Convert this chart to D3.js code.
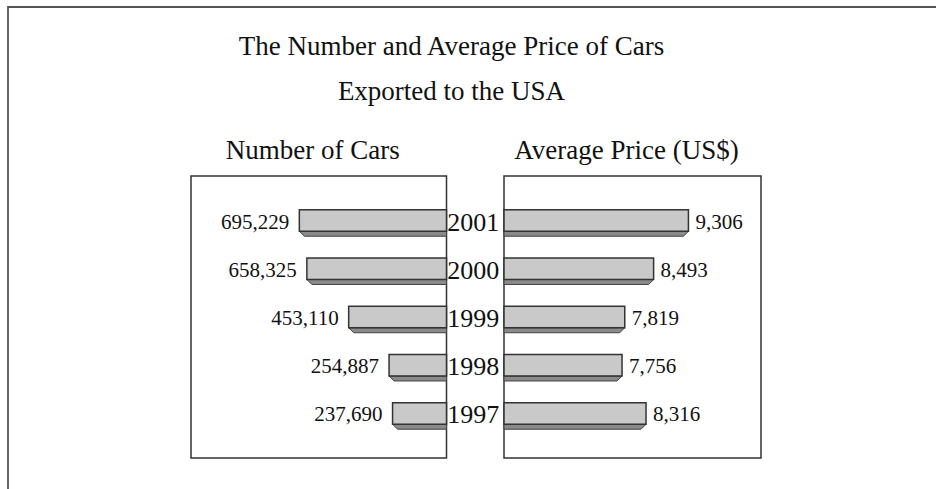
<!DOCTYPE html>
<html><head><meta charset="utf-8">
<script src="https://cdn.jsdelivr.net/npm/d3@7"></script>
<style>body{margin:0;background:#fff}svg{display:block}</style>
</head><body>
<svg id="c" width="936" height="489"></svg>
<script>
const years = ["2001","2000","1999","1998","1997"];
const numberOfCars = [695229, 658325, 453110, 254887, 237690];
const averagePrice = [9306, 8493, 7819, 7756, 8316];
const titleLines = ["The Number and Average Price of Cars", "Exported to the USA"];
const panelTitles = ["Number of Cars", "Average Price (US$)"];

(function(){
const svg = d3.select("#c");
const font = "'Liberation Serif','Times New Roman',serif";
const fmt = d3.format(",");

// outer frame (left and top edges)
svg.append("path").attr("d","M8,489 V7 H936").attr("fill","none").attr("stroke","#555").attr("stroke-width",1.8);

// titles
svg.selectAll("text.title").data(titleLines).enter().append("text")
  .attr("x",451.5).attr("y",(d,i)=>55+i*44.5).attr("text-anchor","middle")
  .attr("font-family",font).attr("font-size",27).attr("fill","#111").text(d=>d);

const pTop = 176, pBottom = 458;
const L = {x0:191, x1:446.5}, R = {x0:504, x1:761};

const y = d3.scaleBand().domain(years).range([pTop,pBottom]).paddingInner(0.555).paddingOuter(0.7);
const xL = d3.scaleLinear().domain([-27000, 1227000]).range([0, L.x1-L.x0]);
const xR = d3.scaleLinear().domain([5000, 11000]).range([0, R.x1-R.x0]);

svg.append("text").attr("x",312.7).attr("y",158.5).attr("text-anchor","middle")
  .attr("font-family",font).attr("font-size",27).attr("fill","#111").text(panelTitles[0]);
svg.append("text").attr("x",626.5).attr("y",158.5).attr("text-anchor","middle")
  .attr("font-family",font).attr("font-size",27).attr("fill","#111").text(panelTitles[1]);

// panels
[L,R].forEach(p=>{
  svg.append("rect").attr("x",p.x0).attr("y",pTop).attr("width",p.x1-p.x0).attr("height",pBottom-pTop)
    .attr("fill","#fff").attr("stroke","#333").attr("stroke-width",1.5);
});

const bh = y.bandwidth(), d = 5;
// left bars
years.forEach((yr,i)=>{
  const w = xL(numberOfCars[i]);
  const x = L.x1 - w, yy = y(yr);
  svg.append("polygon").attr("points",[[x,yy+bh],[x+d,yy+bh+d],[L.x1,yy+bh+d],[L.x1,yy+bh]].join(" "))
    .attr("fill","#8a8a8a").attr("stroke","#444").attr("stroke-width",1);
  svg.append("rect").attr("x",x).attr("y",yy).attr("width",w).attr("height",bh)
    .attr("fill","#c9c9c9").attr("stroke","#333").attr("stroke-width",1.5);
  svg.append("text").attr("x",x-10).attr("y",yy+bh/2+8).attr("text-anchor","end")
    .attr("font-family",font).attr("font-size",21).attr("fill","#111").text(fmt(numberOfCars[i]));
});
// right bars
years.forEach((yr,i)=>{
  const w = xR(averagePrice[i]);
  const x = R.x0, yy = y(yr);
  svg.append("polygon").attr("points",[[x+w,yy+bh],[x+w-d,yy+bh+d],[R.x0,yy+bh+d],[R.x0,yy+bh]].join(" "))
    .attr("fill","#8a8a8a").attr("stroke","#444").attr("stroke-width",1);
  svg.append("rect").attr("x",x).attr("y",yy).attr("width",w).attr("height",bh)
    .attr("fill","#c9c9c9").attr("stroke","#333").attr("stroke-width",1.5);
  svg.append("text").attr("x",x+w+7).attr("y",yy+bh/2+8).attr("text-anchor","start")
    .attr("font-family",font).attr("font-size",21).attr("fill","#111").text(fmt(averagePrice[i]));
});
// year labels
svg.selectAll("text.yr").data(years).enter().append("text")
  .attr("x",(L.x1+R.x0)/2-2).attr("y",d=>y(d)+bh/2+10).attr("text-anchor","middle")
  .attr("font-family",font).attr("font-size",26).attr("fill","#111").text(d=>d);
})();
</script>
</body></html>
